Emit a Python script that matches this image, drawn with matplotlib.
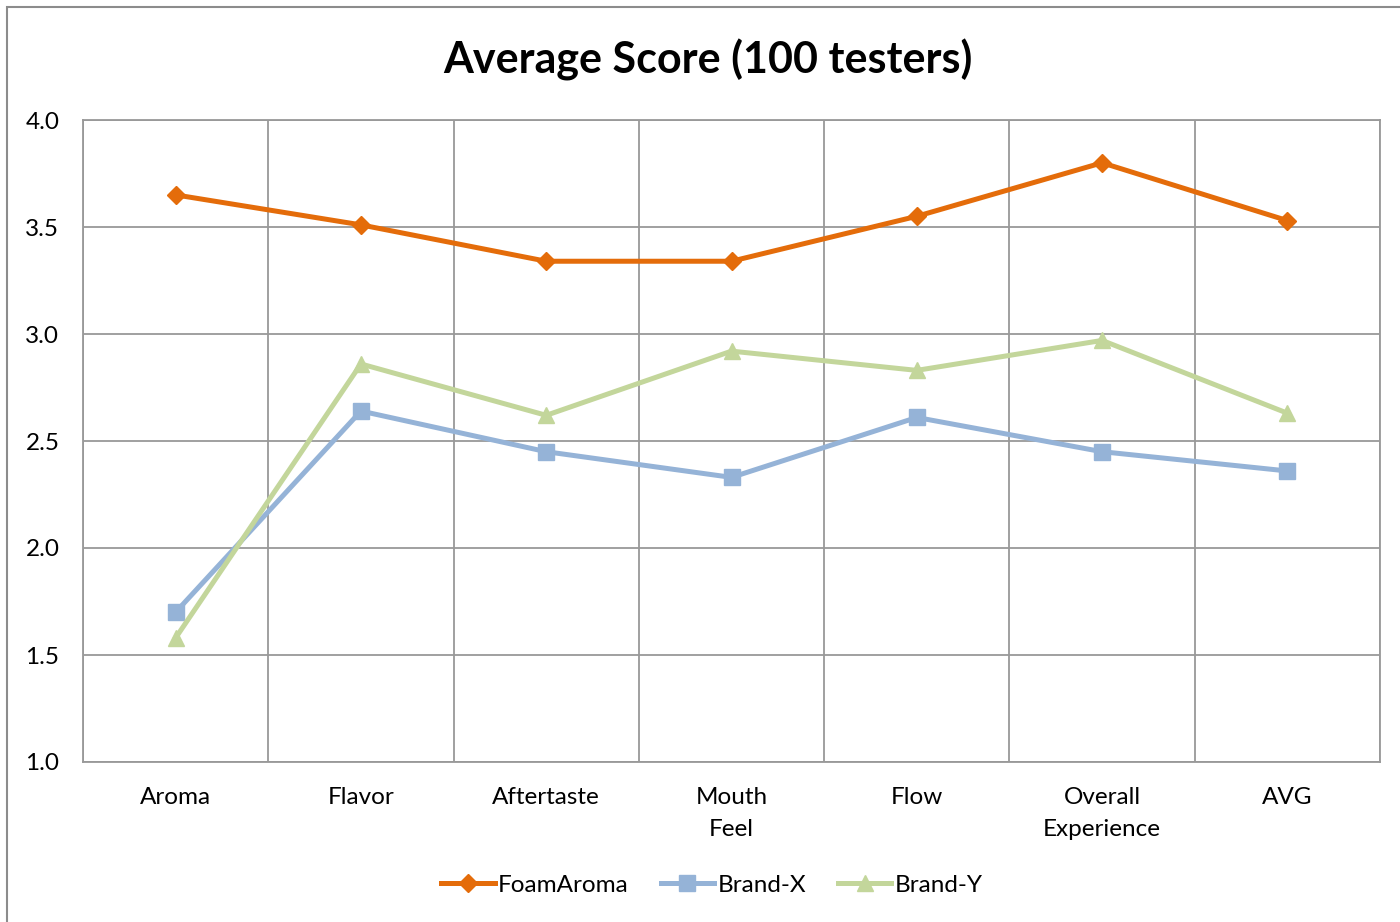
import matplotlib.pyplot as plt
from matplotlib.patches import Rectangle

plt.rcParams["font.family"] = ["Lato", "DejaVu Sans"]

categories = ["Aroma", "Flavor", "Aftertaste", "Mouth\nFeel", "Flow",
              "Overall\nExperience", "AVG"]
foamaroma = [3.65, 3.51, 3.34, 3.34, 3.55, 3.80, 3.53]
brand_x = [1.70, 2.64, 2.45, 2.33, 2.61, 2.45, 2.36]
brand_y = [1.58, 2.86, 2.62, 2.92, 2.83, 2.97, 2.63]
yticks = [1.0, 1.5, 2.0, 2.5, 3.0, 3.5, 4.0]

fig = plt.figure(figsize=(14, 9.22), dpi=100)
# outer chart border (Excel chart area)
fig.patches.append(Rectangle((7 / 1400, -0.01), 1.1, 1 - 7 / 922 + 0.01,
                             transform=fig.transFigure, fill=False,
                             edgecolor="#8c8c8c", lw=1.5))

ax = fig.add_axes([83 / 1400, 1 - 762 / 922, (1380 - 83) / 1400, (762 - 120) / 922])
x = list(range(len(categories)))

ax.plot(x, foamaroma, color="#E46C0A", lw=3.6, marker="D", ms=9,
        label="FoamAroma")
ax.plot(x, brand_x, color="#95B3D7", lw=3.6, marker="s", ms=11.5,
        label="Brand-X")
ax.plot(x, brand_y, color="#C3D69B", lw=3.6, marker="^", ms=11.5,
        label="Brand-Y")

ax.set_xlim(-0.5, len(categories) - 0.5)
ax.set_ylim(1.0, 4.0)
ax.set_yticks(yticks)
ax.set_yticklabels([f"{v:.1f}" for v in yticks])
ax.set_xticks(x)
ax.set_xticklabels(categories, linespacing=1.65)
ax.set_xticks([i + 0.5 for i in range(-1, len(categories))], minor=True)

ax.grid(True, axis="y", color="#999999", lw=1.3)
ax.grid(True, axis="x", which="minor", color="#999999", lw=1.3)
ax.set_axisbelow(True)
for s in ax.spines.values():
    s.set_color("#999999")
    s.set_linewidth(1.3)

ax.tick_params(axis="both", which="both", length=0, labelsize=17.5, colors="black")
ax.tick_params(axis="y", pad=17)
ax.tick_params(axis="x", pad=18)

fig.text(708 / 1400, 1 - 60 / 922, "Average Score (100 testers)",
         ha="center", va="center", fontsize=31, fontweight="bold")

fig.legend(loc="center", bbox_to_anchor=(712 / 1400, 1 - 885 / 922), ncol=3,
           frameon=False, fontsize=17.5, handlelength=2.2, handletextpad=0.15,
           columnspacing=1.3)

fig.savefig("out.png", dpi=100)
